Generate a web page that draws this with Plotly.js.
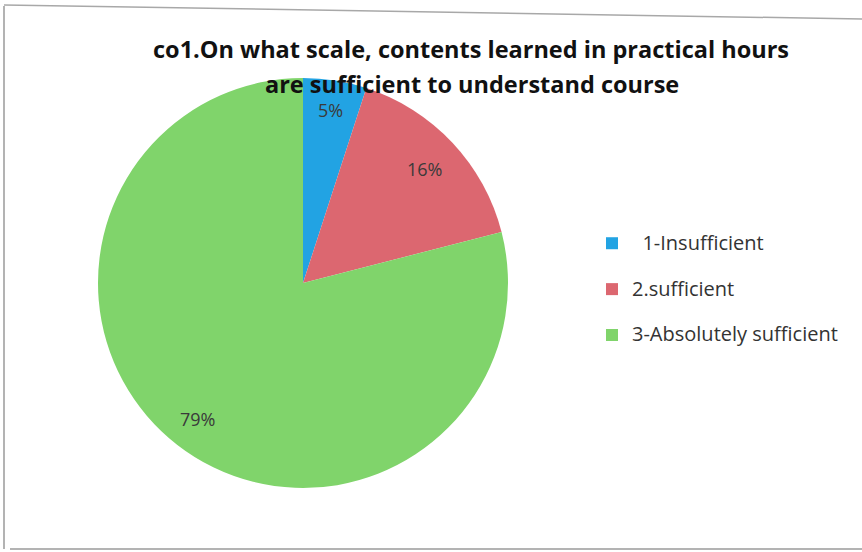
<!DOCTYPE html>
<html>
<head>
<meta charset="utf-8">
<script src="https://cdn.plot.ly/plotly-3.0.1.min.js"></script>
<style>html,body{margin:0;padding:0;background:#fff;}#chart{width:862px;height:552px;}</style>
</head>
<body>
<div id="chart"></div>
<script>
var categories = ["\u00a0\u00a01-Insufficient", "2.sufficient", "3-Absolutely sufficient"];
var values = [5, 16, 79];
var colors = ["#22a3e3", "#dc6770", "#80d46b"];
var titleLine1 = "co1.On what scale, contents learned in practical hours";
var titleLine2 = "are sufficient to understand course";
var labelRadius = [0.855, 0.81, 0.84];

var W = 862, H = 552;
var cxPx = 303, cyPx = 283, Rpx = 205;

var trace = {
  type: "pie",
  labels: categories.map(function (c) { return "<span style='font-size:20px'>" + c + "</span><br> "; }),
  values: values,
  sort: false,
  direction: "clockwise",
  rotation: 0,
  marker: {colors: colors, line: {width: 0}},
  textinfo: "none",
  domain: {x: [(cxPx - Rpx) / W, (cxPx + Rpx) / W], y: [(H - cyPx - Rpx) / H, (H - cyPx + Rpx) / H]},
  hoverinfo: "label+percent"
};

var total = values.reduce(function (a, b) { return a + b; }, 0);
var annotations = [];
var cum = 0;
values.forEach(function (v, i) {
  var mid = (cum + v / 2) / total * 2 * Math.PI;
  cum += v;
  var r = Rpx * labelRadius[i];
  annotations.push({
    xref: "paper", yref: "paper",
    x: (cxPx + r * Math.sin(mid)) / W,
    y: (H - cyPx + r * Math.cos(mid)) / H,
    text: Math.round(v / total * 100) + "%",
    showarrow: false, xanchor: "center", yanchor: "middle",
    font: {family: "'Open Sans', sans-serif", size: 18, color: "#3a3a3a"}
  });
});
annotations.push({
  xref: "paper", yref: "paper", x: 472 / W, y: 1 - 84 / H,
  xanchor: "center", yanchor: "middle", showarrow: false,
  text: titleLine2,
  font: {family: "'Open Sans', sans-serif", size: 23.5, color: "#111", weight: "bold"}
});

var layout = {
  width: W, height: H,
  margin: {l: 0, r: 0, t: 0, b: 0},
  paper_bgcolor: "#ffffff",
  title: {
    text: titleLine1,
    font: {family: "'Open Sans', sans-serif", size: 23.5, color: "#111", weight: "bold"},
    x: 471 / W, xanchor: "center", y: 1 - 50 / H, yanchor: "middle"
  },
  showlegend: true,
  legend: {
    x: 592 / W, xanchor: "left", y: 1 - 226 / H, yanchor: "top",
    valign: "top",
    font: {family: "'Open Sans', sans-serif", size: 16.5, color: "#333"},
    bgcolor: "rgba(0,0,0,0)"
  },
  annotations: annotations,
  shapes: [
    {type: "line", xref: "paper", yref: "paper", x0: 4/W, x1: 4/W, y0: 1-6/H, y1: 1-549/H, line: {color: "#9a9a9a", width: 1.5}},
    {type: "line", xref: "paper", yref: "paper", x0: 4/W, x1: 1, y0: 1-5/H, y1: 1-19/H, line: {color: "#a8a8a8", width: 1.5}},
    {type: "line", xref: "paper", yref: "paper", x0: 10/W, x1: 1, y0: 1-549/H, y1: 1-549/H, line: {color: "#9a9a9a", width: 1.5}}
  ]
};

Plotly.newPlot("chart", [trace], layout, {displayModeBar: false, staticPlot: true});
</script>
</body>
</html>
